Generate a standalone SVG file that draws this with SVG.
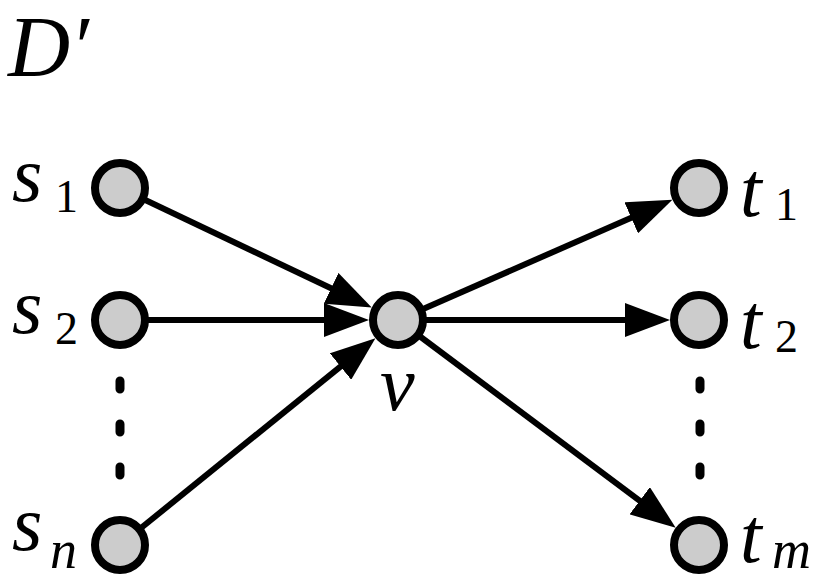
<svg xmlns="http://www.w3.org/2000/svg" width="830" height="579" viewBox="0 0 830 579">
<style>
.node{fill:#cccccc;stroke:#000;stroke-width:8}
.edge{stroke:#000;stroke-width:6;fill:none;marker-end:url(#arr)}
.dots{stroke:#000;stroke-width:9;stroke-linecap:round;stroke-dasharray:8 35;fill:none}
text{font-family:'Liberation Serif','Times New Roman',serif;font-style:italic;font-size:78px;fill:#000}
.sub{font-size:46px;font-style:normal}
.subi{font-size:54px;font-style:italic}
.big{font-size:86px}
</style>
<defs>
<marker id="arr" viewBox="0 0 45 34" refX="25" refY="17" markerWidth="45" markerHeight="34" markerUnits="userSpaceOnUse" orient="auto">
<path d="M0,0 L45,17 L0,34 z" fill="#000"/>
</marker>
</defs>
<rect width="830" height="579" fill="#fff"/>
<text class="big" x="8" y="76">D′</text>
<g id="connectors">
<line class="edge" x1="120" y1="188" x2="353.7" y2="299"/>
<line class="edge" x1="120" y1="320" x2="349" y2="320"/>
<line class="edge" x1="120" y1="545" x2="359.9" y2="350.8"/>
<line class="edge" x1="398" y1="320" x2="654.1" y2="207.7"/>
<line class="edge" x1="398" y1="320" x2="650" y2="320"/>
<line class="edge" x1="398" y1="320" x2="659.7" y2="515.7"/>
<line class="dots" x1="120" y1="381" x2="120" y2="476"/>
<line class="dots" x1="700" y1="381" x2="700" y2="476"/>
</g>
<g id="s1"><circle class="node" cx="120" cy="188" r="25"/><text x="12" y="201">s<tspan class="sub" x="55" y="212">1</tspan></text></g>
<g id="s2"><circle class="node" cx="120" cy="320" r="25"/><text x="12" y="333">s<tspan class="sub" x="55" y="344">2</tspan></text></g>
<g id="sn"><circle class="node" cx="120" cy="545" r="25"/><text x="12" y="550">s<tspan class="subi" x="50" y="568">n</tspan></text></g>
<g id="v"><circle class="node" cx="398" cy="320" r="25"/><text x="380" y="410">v</text></g>
<g id="t1"><circle class="node" cx="699" cy="188" r="25"/><text x="740" y="216">t<tspan class="sub" x="775" y="220">1</tspan></text></g>
<g id="t2"><circle class="node" cx="699" cy="320" r="25"/><text x="740" y="348">t<tspan class="sub" x="775" y="352">2</tspan></text></g>
<g id="tm"><circle class="node" cx="699" cy="545" r="25"/><text x="740" y="562">t<tspan class="subi" x="772" y="568">m</tspan></text></g>
</svg>
